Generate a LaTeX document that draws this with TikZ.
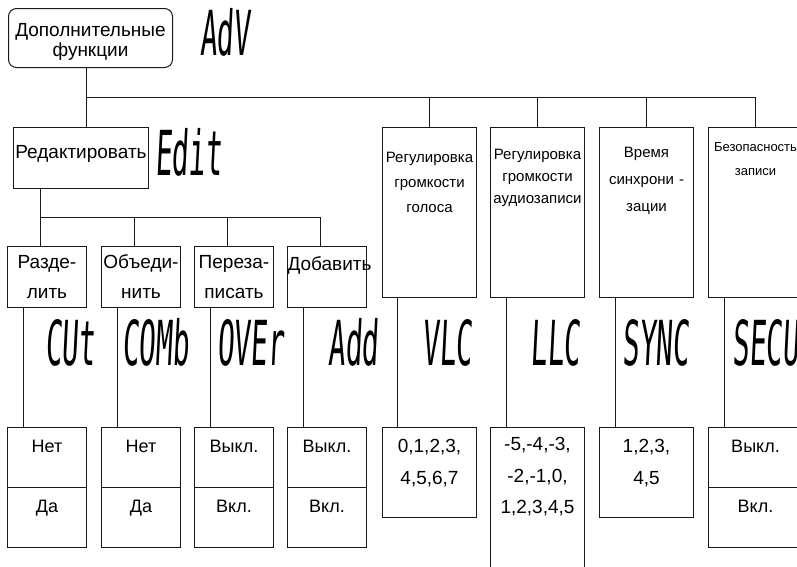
\documentclass[tikz,border=0pt]{standalone}
\usepackage{fontspec}
\setmainfont{Liberation Sans}
\newfontfamily\lcdfont{DejaVu Sans Mono}[FakeStretch=0.45,FakeSlant=0.05]
\usetikzlibrary{positioning}

\begin{document}
\begin{tikzpicture}[x=1pt, y=-1pt]
    \tikzstyle{menu} = [rectangle, draw=gray!20!black, line width=1pt, rounded corners=8pt, inner sep=0pt, anchor=north west, align=center]
    \tikzstyle{item} = [rectangle, draw=gray!20!black, line width=1pt, inner sep=0pt, anchor=north west, align=center]
    \tikzstyle{sub} = [item, text width=79pt, text height=22pt, text depth=39pt, font=\fontsize{19}{30}\selectfont]
    \tikzstyle{tall} = [item, text width=94pt]
    \tikzstyle{cell} = [item, text width=79pt, text height=25pt, text depth=35pt, font=\fontsize{18}{30}\selectfont]
    \tikzstyle{vals} = [item, text width=94pt, text height=25pt, font=\fontsize{19}{31.5}\selectfont]
    \tikzstyle{lcd} = [anchor=base west, inner sep=0pt, font=\lcdfont\fontsize{62}{62}\selectfont]
    \tikzstyle{line} = [draw=gray!20!black, line width=1pt]

    \useasboundingbox (0,0) rectangle (797,566);
    \clip (0,0) rectangle (797,566);

    % top of the menu
    \node [menu, text width=164pt, text height=28pt, text depth=31pt, font=\fontsize{19}{20}\selectfont] (adv) at (8,8) {Дополнительные\\функции};
    \node [lcd] (advlcd) at (200,55) {AdV};
    \node [item, text width=135pt, text height=31pt, text depth=30pt, font=\fontsize{19}{20}\selectfont] (edit) at (13,127) {Редактировать};
    \node [lcd] (editlcd) at (155,175) {Edit};

    % edit functions
    \node [sub] (cut) at (7,246) {Разде-\\лить};
    \node [sub] (comb) at (101,246) {Объеди-\\нить};
    \node [sub] (over) at (194,246) {Переза-\\писать};
    \node [sub, text height=24pt, text depth=37pt] (add) at (287,246) {Добавить};

    % other functions
    \node [tall, text height=35pt, text depth=135pt, font=\fontsize{15}{25}\selectfont] (voice) at (382,127) {Регулировка\\громкости\\голоса};
    \node [tall, text height=32pt, text depth=138pt, font=\fontsize{15}{22}\selectfont] (audio) at (490,127) {Регулировка\\громкости\\аудиозаписи};
    \node [tall, text height=30pt, text depth=140pt, font=\fontsize{15}{27}\selectfont] (sync) at (599,127) {Время\\синхрони -\\зации};
    \node [tall, text height=24pt, text depth=146pt, font=\fontsize{13}{24}\selectfont] (secu) at (708,127) {Безопасность\\записи};

    % display codes
    \node [lcd] (cutlcd) at (45,365) {CUt};
    \node [lcd] (comblcd) at (122,365) {COMb};
    \node [lcd] (overlcd) at (217,365) {OVEr};
    \node [lcd] (addlcd) at (328,365) {Add};
    \node [lcd] (voicelcd) at (422,365) {VLC};
    \node [lcd] (audiolcd) at (530,365) {LLC};
    \node [lcd] (synclcd) at (622,365) {SYNC};
    \node [lcd] (seculcd) at (732,365) {SECU};

    % settings
    \node [cell] (cutno) at (7,427) {Нет};
    \node [cell, below=-1pt of cutno] (cutyes) {Да};
    \node [cell] (combno) at (101,427) {Нет};
    \node [cell, below=-1pt of combno] (combyes) {Да};
    \node [cell] (overoff) at (194,427) {Выкл.};
    \node [cell, below=-1pt of overoff] (overon) {Вкл.};
    \node [cell] (addoff) at (287,427) {Выкл.};
    \node [cell, below=-1pt of addoff] (addon) {Вкл.};
    \node [vals, text depth=65pt] (voicevals) at (382,427) {0,1,2,3,\\4,5,6,7};
    \node [vals, text height=23pt, text depth=137pt] (audiovals) at (490,427) {-5,-4,-3,\\-2,-1,0,\\1,2,3,4,5};
    \node [vals, text depth=65pt] (syncvals) at (599,427) {1,2,3,\\4,5};
    \node [cell, text width=94pt] (secuoff) at (708,427) {Выкл.};
    \node [cell, text width=94pt, below=-1pt of secuoff] (secuon) {Вкл.};

    \coordinate (advbus) at (86,97);
    \coordinate (editbus) at (40,217);

    \path [line] (adv.south -| advbus) -- (edit.north -| advbus);
    \path [line] (advbus) -| (voice.north);
    \path [line] (advbus) -| (audio.north);
    \path [line] (advbus) -| (sync.north);
    \path [line] (advbus) -| (secu.north);
    \path [line] (edit.south -| editbus) -- ([xshift=33pt]cut.north west);
    \path [line] (editbus) -| ([xshift=33pt]comb.north west);
    \path [line] (editbus) -| ([xshift=33pt]over.north west);
    \path [line] (editbus) -| ([xshift=33pt]add.north west);
    \path [line] ([xshift=16pt]cut.south west) -- ([xshift=16pt]cutno.north west);
    \path [line] ([xshift=16pt]comb.south west) -- ([xshift=16pt]combno.north west);
    \path [line] ([xshift=16pt]over.south west) -- ([xshift=16pt]overoff.north west);
    \path [line] ([xshift=16pt]add.south west) -- ([xshift=16pt]addoff.north west);
    \path [line] ([xshift=15pt]voice.south west) -- ([xshift=15pt]voicevals.north west);
    \path [line] ([xshift=16pt]audio.south west) -- ([xshift=16pt]audiovals.north west);
    \path [line] ([xshift=16pt]sync.south west) -- ([xshift=16pt]syncvals.north west);
    \path [line] ([xshift=16pt]secu.south west) -- ([xshift=16pt]secuoff.north west);
\end{tikzpicture}
\end{document}
